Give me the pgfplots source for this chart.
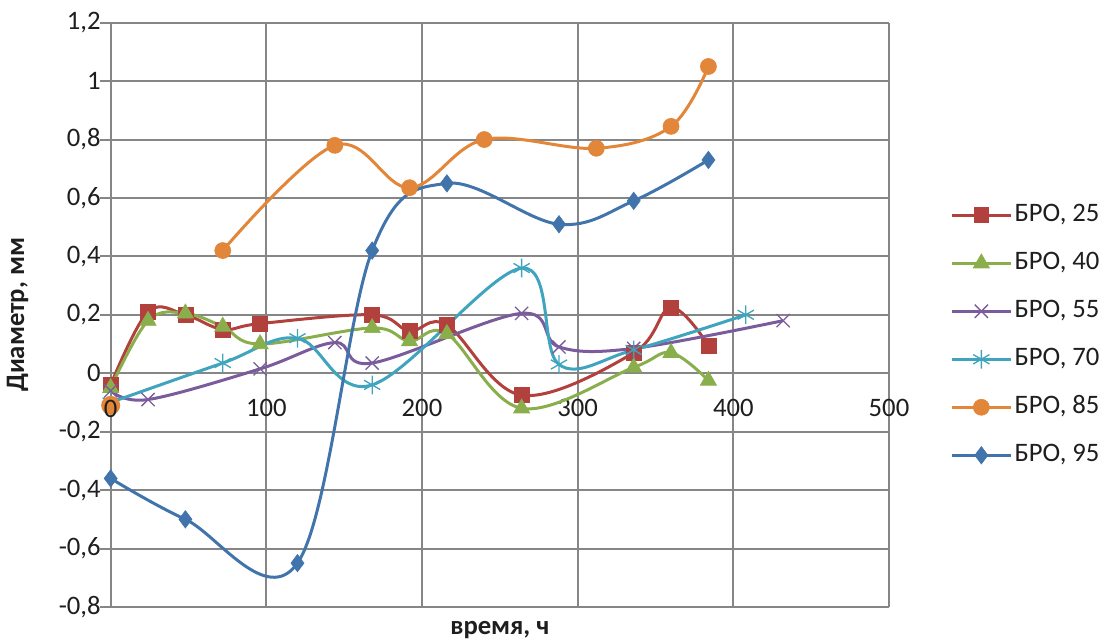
\documentclass[border=0pt]{standalone}
\usepackage{fontspec}
\setmainfont{Carlito}
\usepackage{pgfplots}
\pgfplotsset{compat=1.18}

\definecolor{sRed}{RGB}{178,64,60}
\definecolor{sGreen}{RGB}{138,174,76}
\definecolor{sPurple}{RGB}{122,92,156}
\definecolor{sCyan}{RGB}{64,164,190}
\definecolor{sOrange}{RGB}{226,134,58}
\definecolor{sBlue}{RGB}{66,116,172}
\definecolor{gridgray}{RGB}{134,134,134}
\definecolor{labeltext}{RGB}{30,30,30}

\newcommand{\chartfont}{\fontsize{20}{24}\selectfont}

\begin{document}
\begin{tikzpicture}
\begin{axis}[
  set layers=standard,
  clip=false,
  scale only axis,
  width=583.7pt, height=438.2pt,
  xmin=0, xmax=500, ymin=-0.8, ymax=1.2,
  xtick={100,200,300,400,500},
  ytick={-0.8,-0.6,-0.4,-0.2,0,0.2,0.4,0.6,0.8,1,1.2},
  axis x line=middle, axis y line=left,
  axis line style={-, gridgray, line width=1.5pt},
  grid=major,
  major grid style={gridgray, line width=1.5pt},
  tick align=outside,
  major tick length=8pt,
  tick style={gridgray, line width=1.5pt},
  xtick style={draw=none},
  /pgf/number format/.cd, use comma, assume math mode=true,
  /pgfplots/.cd,
  ticklabel style={font=\chartfont, text=labeltext},
  yticklabel style={xshift=4pt},
  xticklabel style={anchor=north, yshift=-8pt},
  xlabel={\textbf{время, ч}},
  ylabel={\textbf{Диаметр, мм}},
  label style={font=\chartfont, text=labeltext},
  xlabel style={at={(axis description cs:0.5,0)}, anchor=center, yshift=-17pt},
  ylabel style={at={(axis description cs:-0.1195,0.5)}, anchor=center, rotate=0},
  every axis plot/.append style={line width=2.25pt, smooth, tension=0.6},
  legend cell align=left,
  legend image code/.code={%
    \draw[mark repeat=2, mark phase=2]
      plot coordinates {(0pt,0pt) (21.75pt,0pt) (43.5pt,0pt)};},
  legend style={draw=none, fill=none, font=\chartfont, text=labeltext,
    at={(axis description cs:1.074,0.465)}, anchor=west,
    row sep=18pt,
    nodes={inner xsep=2pt, inner ysep=0pt, text height=14pt, text depth=4pt}},
]
% series 25
\addplot[sRed, mark=square*, mark size=5.6pt, mark options={solid, line width=0.5pt}]
  coordinates {(0,-0.04) (24,0.21) (48,0.20) (72,0.15) (96,0.17) (168,0.20)
               (192,0.145) (216,0.165) (264,-0.075) (336,0.07) (360,0.225) (384,0.095)};
\addlegendentry{БРО, 25}
% series 40
\addplot[sGreen, mark=triangle*, mark size=7pt, mark options={solid, line width=0.5pt}]
  coordinates {(0,-0.05) (24,0.18) (48,0.205) (72,0.16) (96,0.10) (168,0.155)
               (192,0.11) (216,0.135) (264,-0.12) (336,0.02) (360,0.07) (384,-0.025)};
\addlegendentry{БРО, 40}
% series 55
\addplot[sPurple, mark=x, mark size=7pt, mark options={solid, line width=1pt}]
  coordinates {(0,-0.06) (24,-0.09) (96,0.015) (144,0.105) (168,0.035)
               (264,0.205) (288,0.09) (336,0.085) (432,0.18)};
\addlegendentry{БРО, 55}
% series 70
\addplot[sCyan, mark=asterisk, mark size=7pt, mark options={solid, line width=1pt}]
  coordinates {(0,-0.10) (72,0.035) (120,0.12) (168,-0.04) (264,0.36)
               (288,0.03) (336,0.08) (408,0.20)};
\addlegendentry{БРО, 70}
% series 85
\addplot[sOrange, mark=*, mark size=6pt, mark options={solid, line width=0.5pt}]
  coordinates {(72,0.42) (144,0.78) (192,0.635) (240,0.80) (312,0.77) (360,0.845) (384,1.05)};
\addlegendentry{БРО, 85}
% series 95
\addplot[sBlue, mark=diamond*, mark size=6.5pt, mark options={solid, line width=0.5pt}]
  coordinates {(0,-0.36) (48,-0.50) (120,-0.65) (168,0.42) (216,0.65)
               (288,0.51) (336,0.59) (384,0.73)};
\addlegendentry{БРО, 95}
% separate first reading of series 85 (not joined to the rest)
\addplot[sOrange, only marks, mark=*, mark size=6pt, forget plot]
  coordinates {(0,-0.11)};
% label of the origin on the time axis, set over the first readings
\begin{pgfonlayer}{axis foreground}
\node[font=\chartfont, text=labeltext, anchor=north, yshift=-17pt]
  at (axis cs:0,0) {0};
\end{pgfonlayer}
\end{axis}
\pgfresetboundingbox
\path ([xshift=-83pt, yshift=-27pt]current axis.south west)
  rectangle ([xshift=162.75pt, yshift=17pt]current axis.north east);
\end{tikzpicture}
\end{document}
